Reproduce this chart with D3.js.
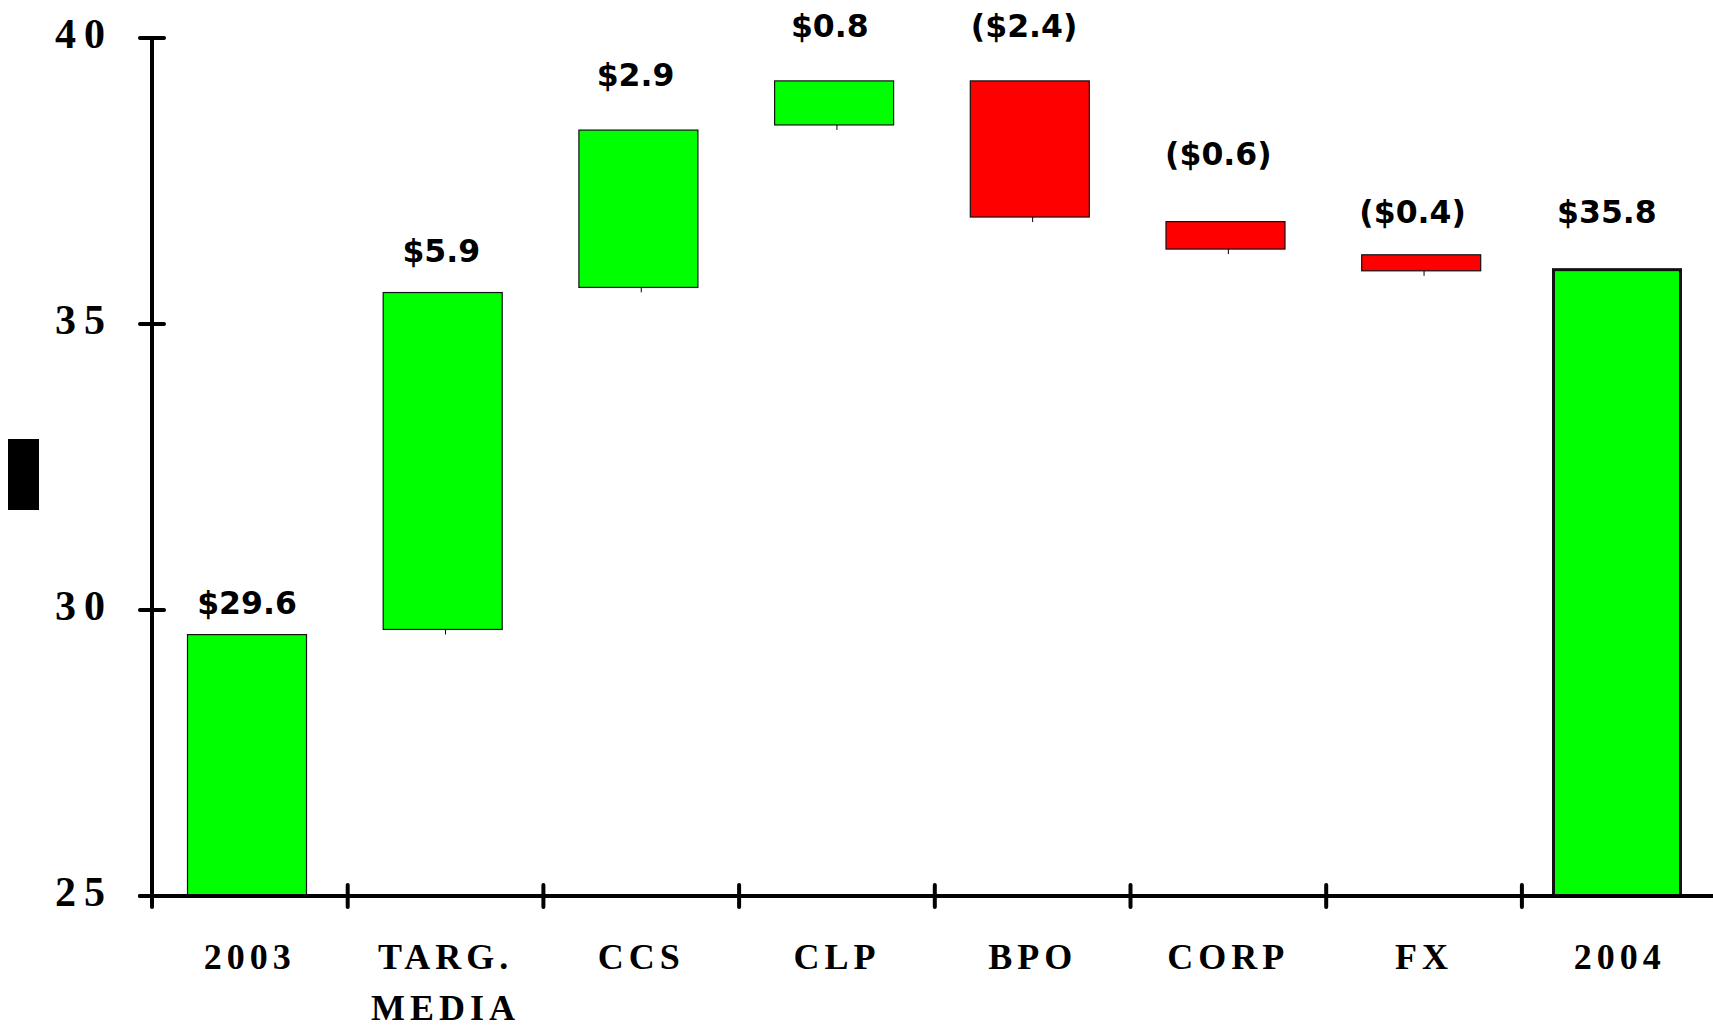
<!DOCTYPE html>
<meta charset="utf-8">
<style>
  body { margin: 0; background: white; }
  .axis line, .axis path { stroke: black; stroke-width: 4px; stroke-linecap: round; }
  .ylab { font-family: "Liberation Serif", "Times New Roman", serif; font-weight: bold; font-size: 42px; letter-spacing: 8px; }
  .xlab { font-family: "Liberation Serif", "Times New Roman", serif; font-weight: bold; font-size: 36px; letter-spacing: 5px; }
  .val { font-family: "DejaVu Sans", sans-serif; font-weight: bold; font-size: 31.5px; }
</style>
<body>
<script src="https://d3js.org/d3.v7.min.js"></script>
<script>
// chart values
var categories = ["2003", "TARG. MEDIA", "CCS", "CLP", "BPO", "CORP", "FX", "2004"];
var barLow  = [0, 29.66, 35.64, 38.48, 36.87, 36.31, 35.93, 0];
var barHigh = [29.57, 35.55, 38.39, 39.25, 39.25, 36.79, 36.21, 35.95];
var barType = ["total", "up", "up", "up", "down", "down", "down", "total"];
var valueLabels = ["$29.6", "$5.9", "$2.9", "$0.8", "($2.4)", "($0.6)", "($0.4)", "$35.8"];
var labelAt = [29.93, 36.08, 39.16, 40.01, 40.01, 37.78, 36.77, 36.77];
var yTicks = [25, 30, 35, 40];

var width = 1713, height = 1031;
var left = 152, step = 195.7;
var yMin = 25, yMax = 40;

var svg = d3.select("body").append("svg")
  .attr("width", width)
  .attr("height", height);

var x = d3.scaleBand()
  .domain(categories)
  .range([left, left + step * categories.length]);

var y = d3.scaleLinear()
  .domain([yMin, yMax])
  .range([896, 38]);

var labelX = d3.scalePoint()
  .domain(categories)
  .range([left + 95, left + 7 * step + 85]);

var color = { total: "#00ff00", up: "#00ff00", down: "#ff0000" };

// bars
var rows = categories.map(function(c, i) {
  return { cat: c, lo: Math.max(barLow[i], yMin), hi: barHigh[i], type: barType[i], last: i == categories.length - 1 };
});

svg.selectAll("rect.bar")
  .data(rows)
  .enter().append("rect")
  .attr("class", "bar")
  .attr("x", function(d) { return x(d.cat) + (d.last ? 31.6 : 35.5); })
  .attr("width", function(d) { return d.last ? 127 : 119; })
  .attr("y", function(d) { return y(d.hi); })
  .attr("height", function(d) { return y(d.lo) - y(d.hi); })
  .attr("fill", function(d) { return color[d.type]; })
  .attr("stroke", "#111")
  .attr("stroke-width", function(d) { return d.last ? 3 : 1.2; });

// little marks under floating bars
svg.selectAll("line.mark")
  .data(rows.filter(function(d) { return d.type != "total"; }))
  .enter().append("line")
  .attr("class", "mark")
  .attr("x1", function(d) { return x(d.cat) + x.bandwidth() / 2; })
  .attr("x2", function(d) { return x(d.cat) + x.bandwidth() / 2; })
  .attr("y1", function(d) { return y(d.lo); })
  .attr("y2", function(d) { return y(d.lo) + 5; })
  .attr("stroke", "black")
  .attr("stroke-width", 1);

// value labels
svg.selectAll("text.val")
  .data(rows)
  .enter().append("text")
  .attr("class", "val")
  .attr("text-anchor", "middle")
  .attr("x", function(d) { return labelX(d.cat); })
  .attr("y", function(d, i) { return y(labelAt[i]); })
  .text(function(d, i) { return valueLabels[i]; });

// y axis
var yAxis = svg.append("g").attr("class", "axis");
yAxis.append("line")
  .attr("x1", left).attr("x2", left)
  .attr("y1", y(yMax)).attr("y2", y(yMin));
yAxis.selectAll("line.tick")
  .data(yTicks)
  .enter().append("line")
  .attr("class", "tick")
  .attr("x1", left - 12).attr("x2", left + 12)
  .attr("y1", function(d) { return y(d); })
  .attr("y2", function(d) { return y(d); });
svg.selectAll("text.ylab")
  .data(yTicks)
  .enter().append("text")
  .attr("class", "ylab")
  .attr("text-anchor", "end")
  .attr("x", 113)
  .attr("y", function(d) { return y(d) + 10; })
  .text(function(d) { return d; });

// x axis
var xAxis = svg.append("g").attr("class", "axis");
xAxis.append("line")
  .attr("x1", left - 12).attr("x2", width + 10)
  .attr("y1", y(yMin)).attr("y2", y(yMin));
xAxis.selectAll("line.tick")
  .data(categories)
  .enter().append("line")
  .attr("class", "tick")
  .attr("x1", function(d) { return x(d); })
  .attr("x2", function(d) { return x(d); })
  .attr("y1", y(yMin) - 11)
  .attr("y2", y(yMin) + 11);

var xl = svg.selectAll("text.xlab")
  .data(categories)
  .enter().append("text")
  .attr("class", "xlab")
  .attr("text-anchor", "middle")
  .attr("y", y(yMin) + 73);
xl.selectAll("tspan")
  .data(function(d) { return d.split(" ").map(function(s) { return { s: s, c: d }; }); })
  .enter().append("tspan")
  .attr("x", function(d) { return x(d.c) + x.bandwidth() / 2; })
  .attr("dy", function(d, i) { return i ? 51 : 0; })
  .text(function(d) { return d.s; });

// black block left of the axis
svg.append("rect")
  .attr("x", 8).attr("y", 439)
  .attr("width", 31).attr("height", 71)
  .attr("fill", "black");
</script>
</body>
